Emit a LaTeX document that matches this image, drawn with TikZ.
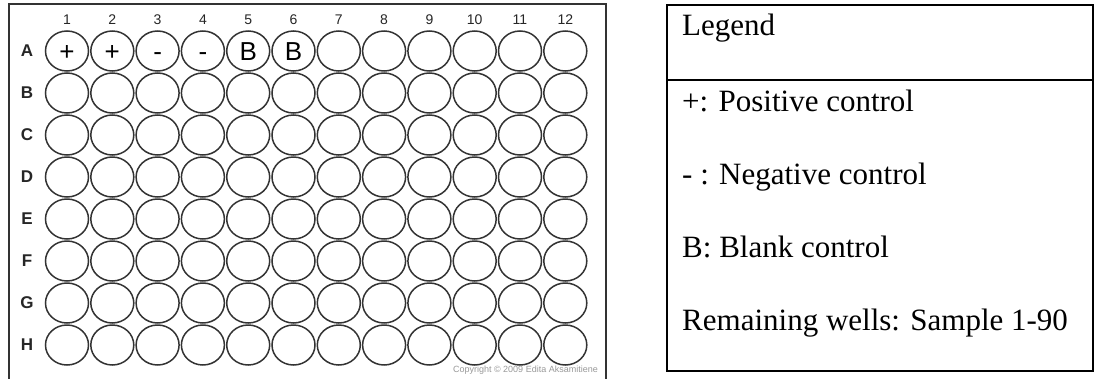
\documentclass[tikz,border=0pt]{standalone}
\usepackage{fontspec}
\setmainfont{Liberation Serif}
\newfontfamily\arialfont{Liberation Sans}
\usetikzlibrary{shapes.geometric}
\begin{document}
\begin{tikzpicture}[x=1pt,y=-1pt,
  well/.style={ellipse, draw=black!80, line width=1.5pt, minimum width=43pt, minimum height=40pt, inner sep=0pt},
  welltxt/.style={font=\arialfont\fontsize{26}{26}\selectfont, inner sep=0pt, text height=18.6pt, text depth=0pt},
  rowlab/.style={font=\arialfont\bfseries\fontsize{17}{17}\selectfont, text=black!85, inner sep=0pt},
  collab/.style={font=\arialfont\fontsize{14}{14}\selectfont, text=black!85, inner sep=0pt},
  legtxt/.style={font=\fontsize{31}{31}\selectfont, anchor=base west, inner sep=0pt},
  frame/.style={draw=black!80, line width=1.6pt}]
\useasboundingbox (0,0) rectangle (1096,378);
\fill[white] (0,0) rectangle (1096,378);
% plate frame
\draw[frame] (9,390) -- (9,4) -- (606,4) -- (606,390);
% column numbers
\foreach \c in {1,...,12}
  \node[collab] (c\c) at ({67+(\c-1)*45.3}, 20) {\c};
% rows and wells
\foreach \r [count=\i from 0] in {A,B,C,D,E,F,G,H} {
  \node[rowlab] (r\r) at (27, {51+\i*42}) {\r};
  \foreach \c in {1,...,12}
    \node[well] (w\r\c) at ({67+(\c-1)*45.3}, {51+\i*42}) {};
}
% well contents
\foreach \c/\t in {1/+,2/+,3/-,4/-,5/B,6/B}
  \node[welltxt] (t\c) at (wA\c) {\t};
% copyright
\node[font=\arialfont\fontsize{9}{9}\selectfont, text=black!40, anchor=base east, inner sep=0pt] (copy) at (598,372) {Copyright \textcopyright{} 2009 Edita Aksamitiene};
% legend table
\draw[line width=1.8pt] (667,5) rectangle (1093,371);
\draw[line width=1.8pt] (667,80) -- (1093,80);
\node[legtxt] (lg) at (682,35) {Legend};
\node[legtxt] (l1) at (682,111) {+: Positive control};
\node[legtxt] (l2) at (682,184) {- : Negative control};
\node[legtxt] (l3) at (682,257) {B: Blank control};
\node[legtxt] (l4) at (682,330) {Remaining wells: Sample 1-90};
\end{tikzpicture}
\end{document}
